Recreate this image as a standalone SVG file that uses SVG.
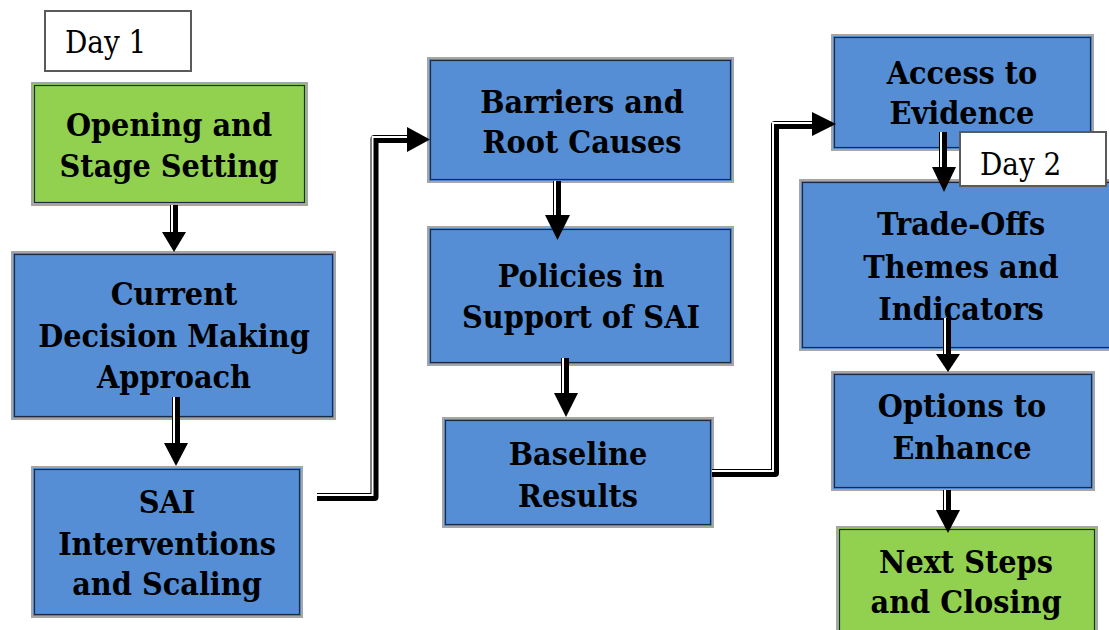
<svg xmlns="http://www.w3.org/2000/svg" width="1109" height="630" viewBox="0 0 1109 630">
<defs>
<style>
.blue{fill:#558ED5;stroke:#a6a6a6;stroke-width:2}
.green{fill:#92D050;stroke:#a6a6a6;stroke-width:2}
.inner{fill:none;stroke:#1b2a45;stroke-width:1.2}
.day{fill:#fff;stroke:#5a5a5a;stroke-width:2}
.t{font-family:'DejaVu Serif Condensed','DejaVu Serif',serif;font-weight:bold;font-size:32px;text-anchor:middle;fill:#000}
.d{font-family:'DejaVu Serif Condensed','DejaVu Serif',serif;font-size:31px;fill:#000}
.lk{fill:none;stroke:#000;stroke-width:8;stroke-linejoin:round}
.lw{fill:none;stroke:#fff;stroke-width:2}
.hd{fill:#000}
</style>
<clipPath id="c2"><rect x="960" y="132" width="146" height="53"/></clipPath>
</defs>
<rect width="1109" height="630" fill="#fff"/>

<g id="day1">
<rect class="day" x="45" y="11" width="146" height="60"/>
<text class="d" x="65" y="53">Day 1</text>
</g>

<g id="opening">
<rect class="green" x="32" y="83" width="275" height="122"/>
<rect class="inner" x="34.5" y="85.5" width="270" height="117"/>
<text class="t" x="169" y="136">Opening and</text>
<text class="t" x="169" y="177">Stage Setting</text>
</g>

<g id="current">
<rect class="blue" x="12" y="252" width="323" height="167"/>
<rect class="inner" x="14.5" y="254.5" width="318" height="162"/>
<text class="t" x="174" y="305">Current</text>
<text class="t" x="174" y="347">Decision Making</text>
<text class="t" x="174" y="388">Approach</text>
</g>

<g id="sai">
<rect class="blue" x="32" y="467" width="270" height="150"/>
<rect class="inner" x="34.5" y="469.5" width="265" height="145"/>
<text class="t" x="167" y="513">SAI</text>
<text class="t" x="167" y="555">Interventions</text>
<text class="t" x="167" y="595">and Scaling</text>
</g>

<g id="barriers">
<rect class="blue" x="428" y="58" width="305" height="124"/>
<rect class="inner" x="430.5" y="60.5" width="300" height="119"/>
<text class="t" x="582" y="113">Barriers and</text>
<text class="t" x="582" y="153">Root Causes</text>
</g>

<g id="policies">
<rect class="blue" x="428" y="227" width="305" height="138"/>
<rect class="inner" x="430.5" y="229.5" width="300" height="133"/>
<text class="t" x="581" y="287">Policies in</text>
<text class="t" x="581" y="328">Support of SAI</text>
</g>

<g id="baseline">
<rect class="blue" x="443" y="418" width="270" height="109"/>
<rect class="inner" x="445.5" y="420.5" width="265" height="104"/>
<text class="t" x="578" y="465">Baseline</text>
<text class="t" x="578" y="507">Results</text>
</g>

<g id="access">
<rect class="blue" x="832" y="35" width="261" height="115"/>
<rect class="inner" x="834.5" y="37.5" width="256" height="110"/>
<text class="t" x="962" y="84">Access to</text>
<text class="t" x="962" y="124">Evidence</text>
</g>

<g id="tradeoffs">
<rect class="blue" x="800" y="180" width="320" height="170"/>
<rect class="inner" x="802.5" y="182.5" width="315" height="165"/>
<text class="t" x="961" y="235">Trade-Offs</text>
<text class="t" x="961" y="278">Themes and</text>
<text class="t" x="961" y="320">Indicators</text>
</g>

<g id="options">
<rect class="blue" x="832" y="372" width="262" height="118"/>
<rect class="inner" x="834.5" y="374.5" width="257" height="113"/>
<text class="t" x="962" y="417">Options to</text>
<text class="t" x="962" y="459">Enhance</text>
</g>

<g id="nextsteps">
<rect class="green" x="837" y="527" width="260" height="120"/>
<rect class="inner" x="839.5" y="529.5" width="255" height="115"/>
<text class="t" x="966" y="573">Next Steps</text>
<text class="t" x="966" y="613">and Closing</text>
</g>

<g id="connectors">
<path class="lk" d="M174 205V234"/><path class="lw" d="M172 205V234"/>
<polygon class="hd" points="162,232 186,232 174,252"/>
<path class="lk" d="M176 397V445"/><path class="lw" d="M174 397V445"/>
<polygon class="hd" points="164,443 188,443 176,466"/>
<path class="lk" d="M317 497H374.5V139H410"/><path class="lw" d="M317 495H372.5V137H410"/>
<polygon class="hd" points="407,127 430,139.5 407,152"/>
<path class="lk" d="M557 181V217"/><path class="lw" d="M555 181V217"/>
<polygon class="hd" points="545,215 570,215 557.5,240"/>
<path class="lk" d="M565 358V395"/><path class="lw" d="M563 358V395"/>
<polygon class="hd" points="554,393 578,393 566,417"/>
<path class="lk" d="M712 473H775V125H815"/><path class="lw" d="M712 471H773V123H815"/>
<polygon class="hd" points="812,112 836,124 812,136"/>
<path class="lk" d="M943 132V169"/><path class="lw" d="M941 132V169"/>
<polygon class="hd" points="932,167 956,167 944,192"/>
<path class="lk" d="M947 318V356"/><path class="lw" d="M945 318V356"/>
<polygon class="hd" points="936,354 960,354 948,372"/>
<path class="lk" d="M947 490V512"/><path class="lw" d="M945 490V512"/>
<polygon class="hd" points="936,510 960,510 948,533"/>
</g>

<g id="day2">
<rect class="day" x="960" y="132" width="146" height="54"/>
<text class="d" x="980" y="175" clip-path="url(#c2)">Day 2</text>
</g>
</svg>
